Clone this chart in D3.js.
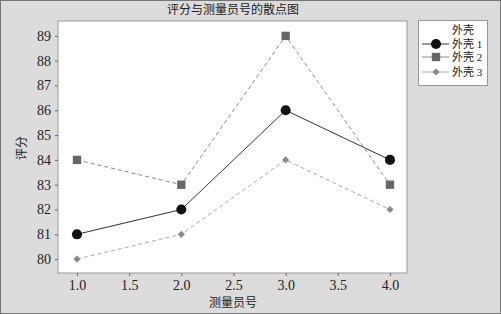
<!DOCTYPE html>
<html>
<head>
<meta charset="utf-8">
<script src="https://cdn.jsdelivr.net/npm/d3@7"></script>
<style>
  body { margin: 0; background: #fff; }
  text { font-family: "Liberation Serif", "Noto Sans CJK SC", serif; }
</style>
</head>
<body>
<svg></svg>
<script>
const xValues = [1, 2, 3, 4]
const shell1 = [81, 82, 86, 84]
const shell2 = [84, 83, 89, 83]
const shell3 = [80, 81, 84, 82]
const seriesNames = ["外壳 1", "外壳 2", "外壳 3"]
const xTicks = [1.0, 1.5, 2.0, 2.5, 3.0, 3.5, 4.0]
const yTicks = [80, 81, 82, 83, 84, 85, 86, 87, 88, 89]

const w = 501
const h = 314
const plot = { left: 58, right: 407, top: 21, bottom: 273 }
const cjk = "'Liberation Serif', 'Noto Sans CJK SC', serif"

const svg = d3.select("svg").attr("width", w).attr("height", h)

// background
svg.append("rect")
  .attr("x", 0.5).attr("y", 0.5)
  .attr("width", w - 1).attr("height", h - 1)
  .attr("fill", "#dcdcdc")
  .attr("stroke", "#777")
  .attr("stroke-width", 1)

svg.append("rect")
  .attr("x", plot.left).attr("y", plot.top)
  .attr("width", plot.right - plot.left).attr("height", plot.bottom - plot.top)
  .attr("fill", "#fff")
  .attr("stroke", "#999")

const xScale = d3.scaleLinear().domain([0.818, 4.163]).range([plot.left, plot.right])
const yScale = d3.scaleLinear().domain([79.44, 89.6]).range([plot.bottom, plot.top])

const xAxis = d3.axisBottom(xScale).tickValues(xTicks).tickFormat(d3.format(".1f")).tickSize(3).tickPadding(4)
const yAxis = d3.axisLeft(yScale).tickValues(yTicks).tickFormat(d3.format("d")).tickSize(3).tickPadding(4)

const gx = svg.append("g").attr("transform", `translate(0,${plot.bottom})`).call(xAxis)
const gy = svg.append("g").attr("transform", `translate(${plot.left},0)`).call(yAxis)
;[gx, gy].forEach((g) => {
  g.select(".domain").remove()
  g.selectAll("line").attr("stroke", "#666")
  g.selectAll("text").attr("font-size", 14).attr("fill", "#222")
    .style("font-family", "'Liberation Serif', serif")
})

// title and axis labels
const label = (x, y, txt, size, anchor) =>
  svg.append("text")
    .attr("x", x).attr("y", y)
    .attr("text-anchor", anchor || "middle")
    .attr("font-size", size)
    .attr("fill", "#222")
    .style("font-family", cjk)
    .text(txt)

label(233, 14, "评分与测量员号的散点图", 12)
label(233, 307, "测量员号", 12)

svg.append("text")
  .attr("transform", "translate(26,148) rotate(-90)")
  .attr("text-anchor", "middle")
  .attr("font-size", 12)
  .attr("fill", "#222")
  .style("font-family", cjk)
  .text("评分")

const series = [
  { values: shell1, line: "#333", marker: "#111", dash: null, symbol: d3.symbolCircle, size: 80, rot: 0 },
  { values: shell2, line: "#888", marker: "#666", dash: "4,3", symbol: d3.symbolSquare, size: 70, rot: 0 },
  { values: shell3, line: "#aaa", marker: "#8a8a8a", dash: "4,3", symbol: d3.symbolSquare, size: 26, rot: 45 },
]

const line = d3.line()
  .x((d, i) => xScale(xValues[i]))
  .y((d) => yScale(d))

series.forEach((s) => {
  svg.append("path")
    .datum(s.values)
    .attr("d", line)
    .attr("fill", "none")
    .attr("stroke", s.line)
    .attr("stroke-width", 1)
    .attr("stroke-dasharray", s.dash)

  svg.selectAll(null)
    .data(s.values)
    .enter()
    .append("path")
    .attr("d", d3.symbol().type(s.symbol).size(s.size))
    .attr("transform", (d, i) => `translate(${xScale(xValues[i])},${yScale(d)}) rotate(${s.rot})`)
    .attr("fill", s.marker)
})

// legend
const legend = svg.append("g")
legend.append("rect")
  .attr("x", 418.5).attr("y", 20.5)
  .attr("width", 69).attr("height", 65)
  .attr("fill", "#fff")
  .attr("stroke", "#999")
legend.append("text")
  .attr("x", 463).attr("y", 34)
  .attr("text-anchor", "middle")
  .attr("font-size", 11)
  .attr("fill", "#222")
  .style("font-family", cjk)
  .text("外壳")

const legendY = [44, 57, 72]
series.forEach((s, i) => {
  const y = legendY[i]
  legend.append("line")
    .attr("x1", 422).attr("x2", 449)
    .attr("y1", y).attr("y2", y)
    .attr("stroke", s.line)
  legend.append("path")
    .attr("d", d3.symbol().type(s.symbol).size(s.size))
    .attr("transform", `translate(436,${y}) rotate(${s.rot})`)
    .attr("fill", s.marker)
  legend.append("text")
    .attr("x", 452).attr("y", y + 4)
    .attr("font-size", 11)
    .attr("fill", "#222")
    .style("font-family", cjk)
    .text(seriesNames[i])
})
</script>
</body>
</html>
